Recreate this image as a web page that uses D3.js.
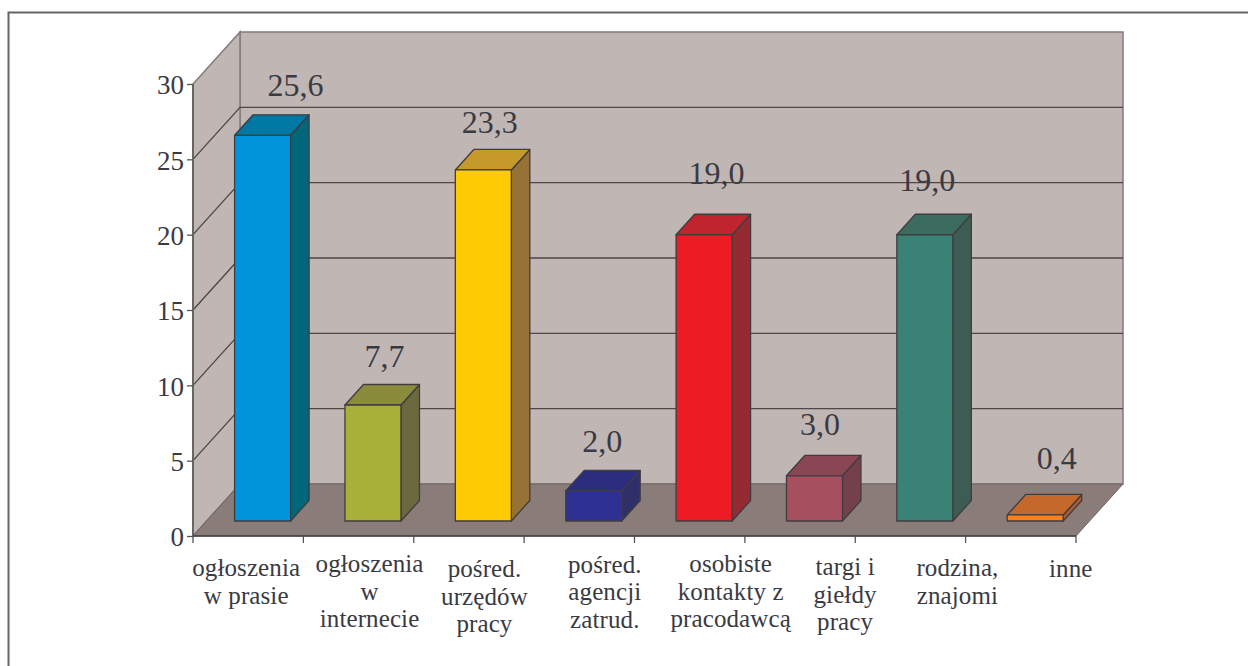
<!DOCTYPE html>
<html><head><meta charset="utf-8">
<script src="https://cdn.jsdelivr.net/npm/d3@7"></script>
<style>html,body{margin:0;padding:0;background:#fff}svg{display:block}text{font-family:"Liberation Serif",serif;fill:#3a3a42}</style>
</head><body><svg id="c" width="1248" height="666"></svg>
<script>
const categories = [["ogłoszenia","w prasie"],["ogłoszenia","w","internecie"],["pośred.","urzędów","pracy"],["pośred.","agencji","zatrud."],["osobiste","kontakty z","pracodawcą"],["targi i","giełdy","pracy"],["rodzina,","znajomi"],["inne"]];
const values = [25.6,7.7,23.3,2.0,19.0,3.0,19.0,0.4];
const valueLabels = ["25,6","7,7","23,3","2,0","19,0","3,0","19,0","0,4"];
const yTicks = [0,5,10,15,20,25,30];
const frontColors = ["#0095da","#a8b038","#ffcb05","#2e3192","#ed1c24","#a65060","#3a8276","#f58220"];
const sideColors  = ["#00667a","#6a6a3e","#967236","#2f3069","#962a32","#74404c","#3c5c54","#a85c34"];
const topColors   = ["#0078a4","#8a8c3c","#c69a2a","#2b2d7e","#c0242e","#8a4652","#3c6c60","#c4682c"];

const svg = d3.select("#c");
const X0=193, X1=1076, Y0=536, Y30=84, DX=47, DY=-52;
const x = d3.scaleBand().domain(d3.range(categories.length)).range([X0,X1]).padding(0);
const y = d3.scaleLinear().domain([0,30]).range([Y0,Y30]);
const poly = p => p.map(d=>d.join(",")).join(" ");

// Manual placement offsets of the original's hand-set labels
const valNudgeX = [33,11.5,6.5,8.5,12.5,5.5,2.5,21.5];
const valTopY   = [96,367,133,452,184,435,191,469];
const catNudgeX = [-2,11,15.5,25.5,41,45,47,50];
const catBase   = [576,572,577,572.5,572,575,576,577];

// frame (open at right and bottom)
svg.append("path").attr("d","M8.5,666V12.5H1248").attr("fill","none").attr("stroke","#666").attr("stroke-width",2);

// walls
const wall="#c0b6b4", wallLine="#85797a";
svg.append("polygon").attr("points",poly([[X0+DX,Y30+DY],[X1+DX,Y30+DY],[X1+DX,Y0+DY],[X0+DX,Y0+DY]])).attr("fill",wall).attr("stroke",wallLine).attr("stroke-width",1.5);
svg.append("polygon").attr("points",poly([[X0,Y0],[X0,Y30],[X0+DX,Y30+DY],[X0+DX,Y0+DY]])).attr("fill",wall).attr("stroke",wallLine).attr("stroke-width",1.5);
svg.append("polygon").attr("points",poly([[X0,Y0],[X0+DX,Y0+DY],[X1+DX,Y0+DY],[X1,Y0]])).attr("fill","#8a7c78").attr("stroke","#6f6462").attr("stroke-width",1);

// gridlines
yTicks.filter(t=>t>0&&t<30).forEach(t=>{
  svg.append("path").attr("d",`M${X0},${y(t)}L${X0+DX},${y(t)+DY}H${X1+DX}`).attr("fill","none").attr("stroke","#4c4646").attr("stroke-width",1.3);
});

// axes
const axisG = svg.append("g").attr("transform",`translate(${X0},0)`).call(d3.axisLeft(y).tickValues(yTicks).tickSize(6).tickPadding(3));
axisG.select(".domain").attr("stroke","#666").attr("stroke-width",2).attr("d",`M0,${Y30}V${Y0}`);
axisG.selectAll(".tick line").attr("stroke","#555").attr("stroke-width",1.3);
axisG.selectAll(".tick text").attr("font-size",27).attr("font-family","Liberation Serif").attr("fill","#3a3a42").attr("dy","0.36em");
const xScaleTicks = d3.range(categories.length+1).map(i=>X0+i*x.step());
svg.append("g").selectAll("line").data(xScaleTicks).join("line").attr("x1",d=>d).attr("x2",d=>d).attr("y1",Y0).attr("y2",Y0+7).attr("stroke","#555").attr("stroke-width",1.3);
svg.append("line").attr("x1",X0).attr("x2",X1).attr("y1",Y0).attr("y2",Y0).attr("stroke","#454045").attr("stroke-width",1.6);

// bars
const barW=56, depth=18.5, rise=20.5;
const fdx=14.4, fdy=-15;
const bars = svg.append("g").selectAll("g").data(values).join("g");
const stroke="#403c40";
bars.each(function(v,i){
  const g=d3.select(this);
  const L=x(i)+x.step()/2-barW/2+fdx, R=L+barW;
  const B=y(0)+fdy, T=y(v)+fdy;
  g.append("polygon").attr("points",poly([[R,B],[R,T],[R+depth,T-rise],[R+depth,B-rise]])).attr("fill",sideColors[i]);
  g.append("polygon").attr("points",poly([[L,T],[L+depth,T-rise],[R+depth,T-rise],[R,T]])).attr("fill",topColors[i]);
  g.append("rect").attr("x",L).attr("y",T).attr("width",barW).attr("height",B-T).attr("fill",frontColors[i]);
  g.selectAll("polygon,rect").attr("stroke",stroke).attr("stroke-width",1.3).attr("stroke-linejoin","round");
  g.append("text").attr("x",L+barW/2+valNudgeX[i]).attr("y",valTopY[i]).attr("text-anchor","middle").attr("font-size",32).text(valueLabels[i]);
});

// category labels
svg.append("g").selectAll("text").data(categories).join("text")
  .attr("text-anchor","middle").attr("font-size",25).attr("letter-spacing",0.1)
  .each(function(lines,i){
    const cx=x(i)+x.step()/2+catNudgeX[i];
    d3.select(this).selectAll("tspan").data(lines).join("tspan").attr("x",cx).attr("y",(d,j)=>catBase[i]+j*27.7).text(d=>d);
  });
</script></body></html>
